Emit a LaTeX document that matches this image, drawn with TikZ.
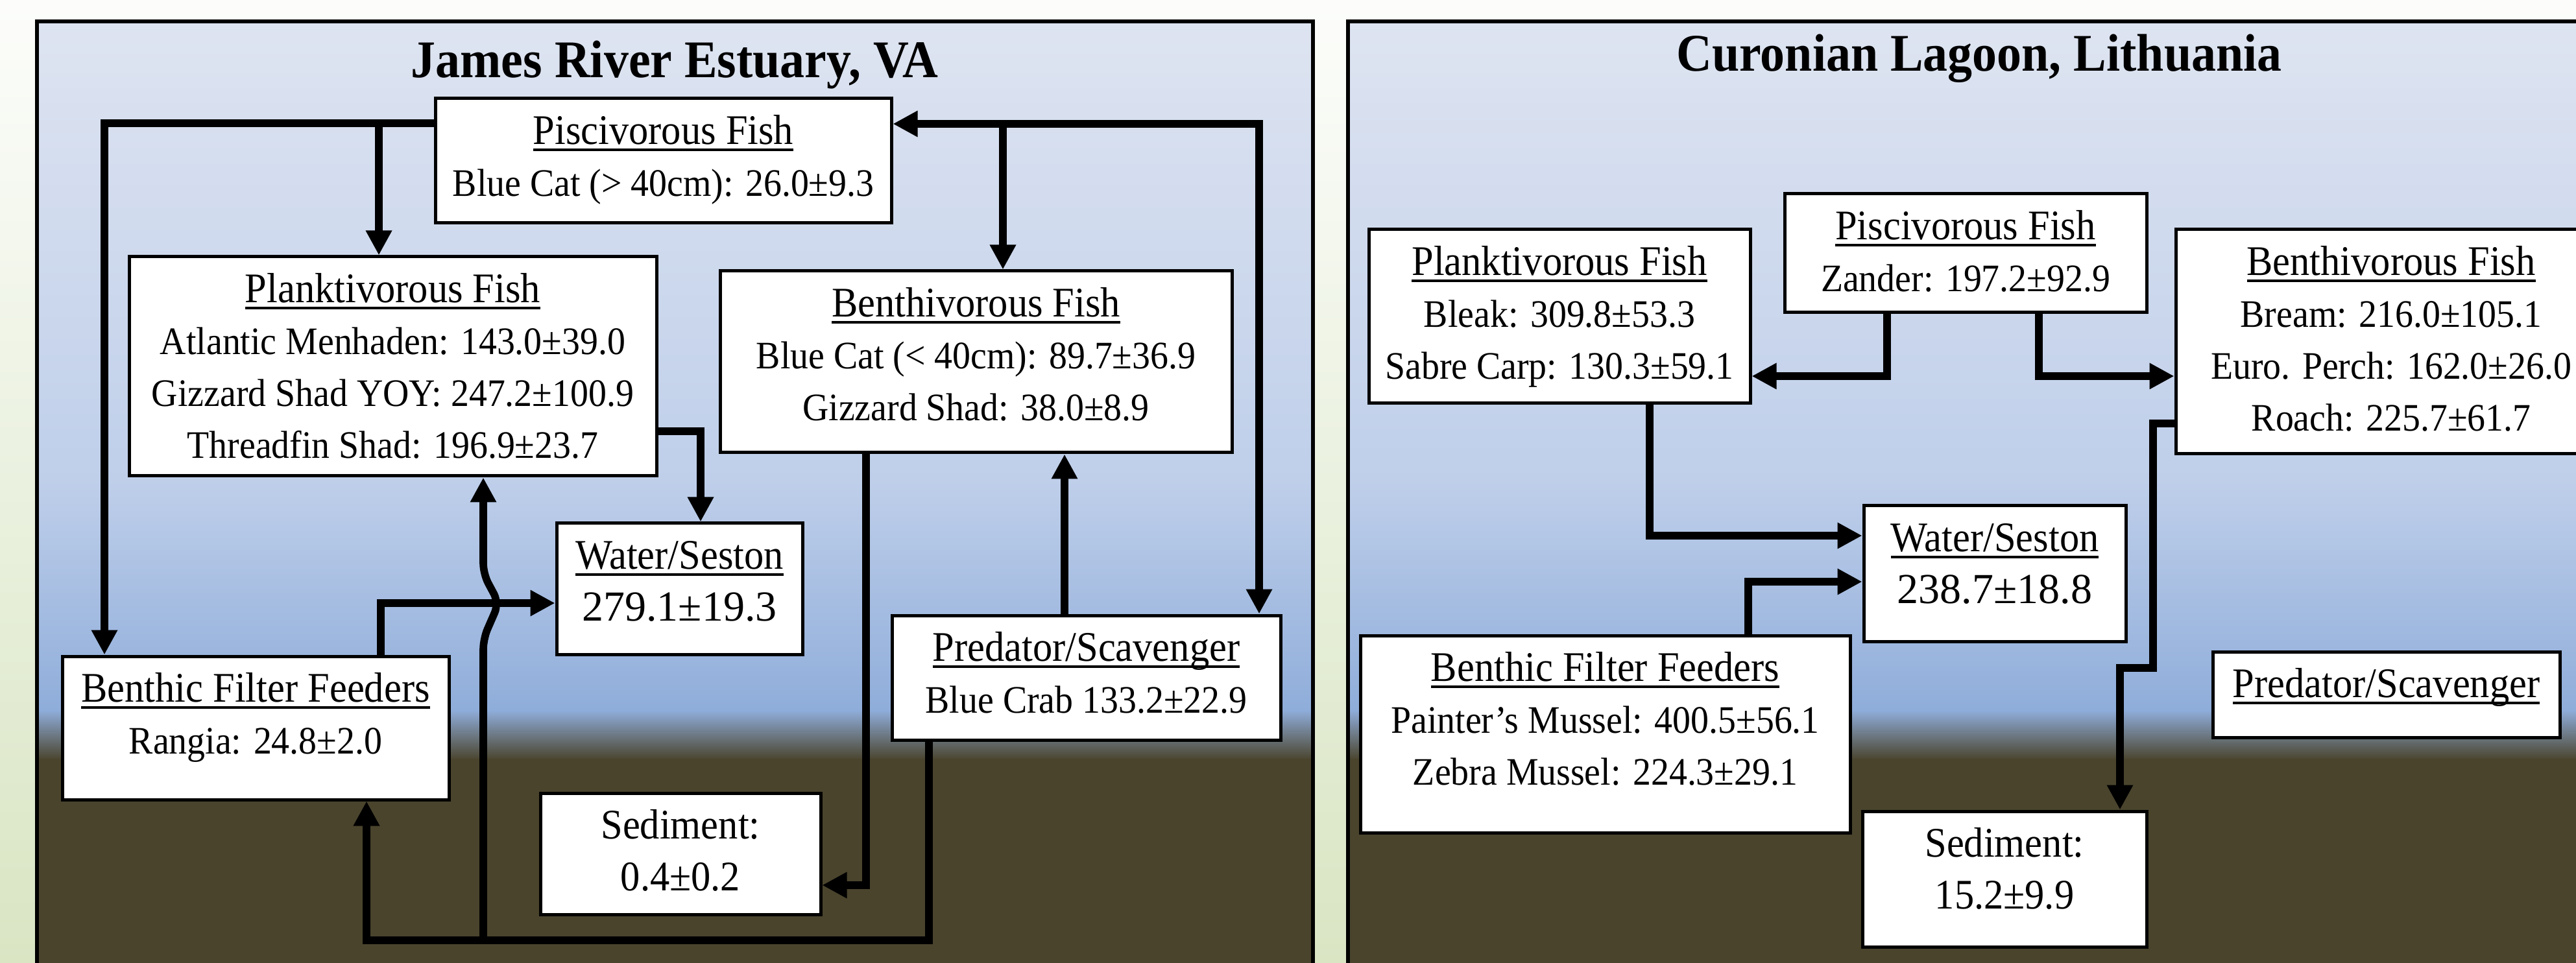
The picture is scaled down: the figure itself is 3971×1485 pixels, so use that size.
\documentclass[tikz,border=0pt]{standalone}
\usepackage{fontspec}
\setmainfont{Liberation Serif}[FakeStretch=0.93]
\newfontfamily\valfont{Liberation Serif}
\usetikzlibrary{arrows.meta,fit}
\definecolor{skytop}{HTML}{DEE4F1}
\definecolor{skymid}{HTML}{BFCFEA}
\definecolor{skylow}{HTML}{8FADDA}
\definecolor{murk}{HTML}{6B7377}
\definecolor{mud}{HTML}{4A442D}
\definecolor{margtop}{HTML}{FCFDFB}
\definecolor{margbot}{HTML}{D9E5C3}
\newcommand\hdr[1]{{\fontsize{16.25}{20}\selectfont\setbox0\hbox{#1}\rlap{\rule[-2.7pt]{\wd0}{1pt}}\box0}}
\newcommand\bigt{\fontsize{16.25}{20}\selectfont}
\newcommand\valt{\valfont\fontsize{16.5}{20}\selectfont}
\begin{document}
\begin{tikzpicture}[x=0.25pt, y=-0.25pt,
  box/.style={draw=black, line width=1.25pt, fill=white, inner sep=0pt},
  txt/.style={anchor=north, align=center, inner sep=0pt, font=\fontsize{15}{20}\selectfont},
  ttl/.style={anchor=base, inner sep=0pt, font=\fontsize{20.4}{24}\selectfont\bfseries},
  conn/.style={line width=2.9pt, line join=miter},
  arr/.style={conn, -{Triangle[length=9.5pt,width=9.5pt]}},
  arrtwo/.style={conn, {Triangle[length=9.5pt,width=9.5pt]}-{Triangle[length=9.5pt,width=9.5pt]}},
  frame/.style={draw=black, line width=1.5pt}]
\useasboundingbox (0,0) rectangle (3971,1485);
\clip (0,0) rectangle (3971,1485);
% page background
\shade[top color=margtop, bottom color=margbot] (0,0) rectangle (3971,1485);
% panels
\foreach \xa/\xb in {57/2024, 2078/4060} {
  \shade[top color=skytop, bottom color=skymid] (\xa,33) rectangle (\xb,741);
  \shade[top color=skymid, bottom color=skylow] (\xa,740) rectangle (\xb,1097);
  \shade[top color=skylow, middle color=murk, bottom color=mud] (\xa,1095) rectangle (\xb,1172);
  \fill[mud] (\xa,1170) rectangle (\xb,1500);
  \draw[frame] (\xa,33) rectangle (\xb,1510);
}
% titles
\node[ttl] (ltitle) at (1040,120) {James River Estuary, VA};
\node[ttl] (rtitle) at (3051,110) {Curonian Lagoon, Lithuania};

% ---------------- left panel boxes
\node[box, fit={(671,152) (1374,344)}] (lpis) {};
\node[box, fit={(199,396) (1012,734)}] (lplk) {};
\node[box, fit={(1110,418) (1899,698)}] (lben) {};
\node[box, fit={(858,807) (1237,1009)}] (lwat) {};
\node[box, fit={(96,1012) (692,1233)}] (lbff) {};
\node[box, fit={(1375,949) (1974,1141)}] (lpred) {};
\node[box, fit={(833,1223) (1265,1410)}] (lsed) {};

\node[txt] (lpis-t) at ([yshift=-4pt]lpis.north) {\strut\hdr{Piscivorous Fish}\\Blue Cat (> 40cm): 26.0±9.3};
\node[txt] (lplk-t) at ([yshift=-4pt]lplk.north) {\strut\hdr{Planktivorous Fish}\\Atlantic Menhaden: 143.0±39.0\\Gizzard Shad YOY: 247.2±100.9\\Threadfin Shad: 196.9±23.7};
\node[txt] (lben-t) at ([yshift=-4pt]lben.north) {\strut\hdr{Benthivorous Fish}\\Blue Cat (< 40cm): 89.7±36.9\\Gizzard Shad: 38.0±8.9};
\node[txt] (lwat-t) at ([yshift=-4pt]lwat.north) {\strut\hdr{Water/Seston}\\{\valt 279.1±19.3}};
\node[txt] (lbff-t) at ([yshift=-4pt]lbff.north) {\strut\hdr{Benthic Filter Feeders}\\Rangia: 24.8±2.0};
\node[txt] (lpred-t) at ([yshift=-4pt]lpred.north) {\strut\hdr{Predator/Scavenger}\\Blue Crab 133.2±22.9};
\node[txt] (lsed-t) at ([yshift=-4pt]lsed.north) {\strut{\bigt Sediment:}\\{\bigt 0.4±0.2}};

% ---------------- right panel boxes
\node[box, fit={(2751,299) (3309,482)}] (rpis) {};
\node[box, fit={(2110,354) (2698,622)}] (rplk) {};
\node[box, fit={(3354,354) (4018,700)}] (rben) {};
\node[box, fit={(2873,780) (3277,989)}] (rwat) {};
\node[box, fit={(2097,980) (2852,1284)}] (rbff) {};
\node[box, fit={(2871,1251) (3309,1460)}] (rsed) {};
\node[box, fit={(3411,1005) (3946,1137)}] (rpred) {};

\node[txt] (rpis-t) at ([yshift=-4pt]rpis.north) {\strut\hdr{Piscivorous Fish}\\Zander: 197.2±92.9};
\node[txt] (rplk-t) at ([yshift=-4pt]rplk.north) {\strut\hdr{Planktivorous Fish}\\Bleak: 309.8±53.3\\Sabre Carp: 130.3±59.1};
\node[txt] (rben-t) at ([yshift=-4pt]rben.north) {\strut\hdr{Benthivorous Fish}\\Bream: 216.0±105.1\\Euro. Perch: 162.0±26.0\\Roach: 225.7±61.7};
\node[txt] (rwat-t) at ([yshift=-4pt]rwat.north) {\strut\hdr{Water/Seston}\\{\valt 238.7±18.8}};
\node[txt] (rbff-t) at ([yshift=-4pt]rbff.north) {\strut\hdr{Benthic Filter Feeders}\\Painter’s Mussel: 400.5±56.1\\Zebra Mussel: 224.3±29.1};
\node[txt] (rsed-t) at ([yshift=-4pt]rsed.north) {\strut{\bigt Sediment:}\\{\bigt 15.2±9.9}};
\node[txt] (rpred-t) at ([yshift=-4pt]rpred.north) {\strut\hdr{Predator/Scavenger}};

% ---------------- left connectors
\coordinate (jl) at (584,190);
\coordinate (jr) at (1546,191);
\coordinate (jb) at (745,1450);
\coordinate (jc) at (565,1450);
\draw[arr] (lpis.west |- 0,190) -| (lbff.north -| 161,0);
\draw[arr] (jl) -- (lplk.north -| jl);
\draw[arrtwo] (lpis.east |- 0,191) -| (lpred.north -| 1941,0);
\draw[arr] (jr) -- (lben.north -| jr);
\draw[arr] (lplk.east |- 0,665) -| (lwat.north -| 1080,0);
\draw[arr] (lben.south -| 1335,0) |- (lsed.east |- 0,1365);
\draw[arr] (lpred.north -| 1641,0) -- (lben.south -| 1641,0);
\draw[arr] (lpred.south -| 1432,0) |- (jc) -- (lbff.south -| jc);
\draw[arr, rounded corners=4pt] (jb) -- (745,985) -- (769,930) -- (745,885) -- (lplk.south -| jb);
\draw[arr] (lbff.north -| 587,0) |- (lwat.west |- 0,930);

% ---------------- right connectors
\draw[arr] (rpis.south -| 2909,0) |- (rplk.east |- 0,580);
\draw[arr] (rpis.south -| 3143,0) |- (rben.west |- 0,580);
\draw[arr] (rplk.south -| 2543,0) |- (rwat.west |- 0,826);
\draw[arr] (rbff.north -| 2695,0) |- (rwat.west |- 0,897);
\draw[arr] (rben.west |- 0,653) -| (3319,1030) -| (rsed.north -| 3268,0);
\end{tikzpicture}
\end{document}
